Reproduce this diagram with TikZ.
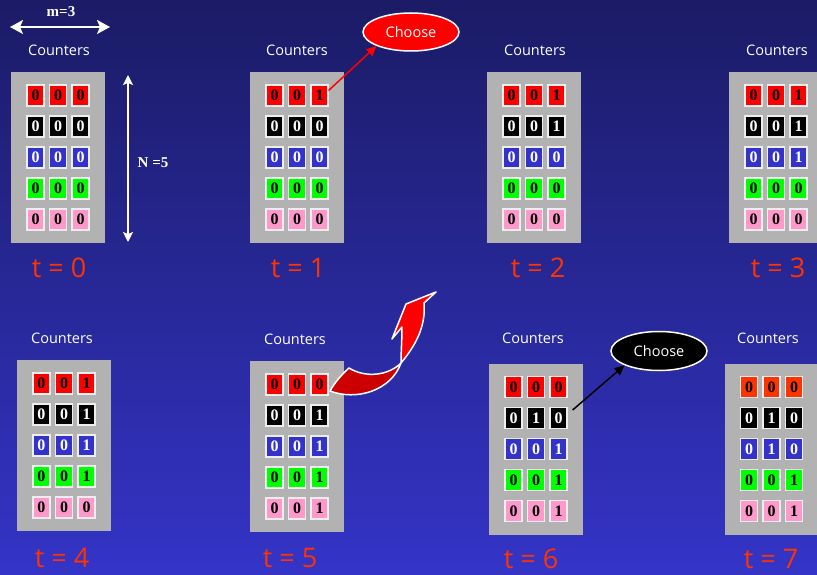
\documentclass[tikz,border=0pt]{standalone}
\usepackage{fontspec}
\setmainfont{Liberation Serif}
\newfontfamily\handfont{Open Sans}
\usetikzlibrary{arrows.meta,shapes.geometric,calc}

\definecolor{bgtop}{HTML}{1B1B66}
\definecolor{bgbot}{HTML}{3434C8}
\definecolor{panelgray}{HTML}{B2B2B2}
\definecolor{cellred}{HTML}{FF0000}
\definecolor{cellorange}{HTML}{FF3300}
\definecolor{cellblue}{HTML}{3333CC}
\definecolor{cellgreen}{HTML}{00FF00}
\definecolor{cellpink}{HTML}{FF99CC}
\definecolor{timered}{HTML}{FF3300}
\definecolor{arrowdark}{HTML}{CC0000}
\definecolor{cellrim}{HTML}{EEEEEE}

\tikzset{
  panel/.style={fill=panelgray, draw=none, minimum width=94pt, minimum height=171pt, inner sep=0pt},
  cell/.style={draw=cellrim, line width=1.2pt, minimum width=17pt, minimum height=21pt,
    inner sep=0pt, font=\bfseries\fontsize{16}{16}\selectfont},
  rowred/.style={fill=cellred, text=black},
  roworange/.style={fill=cellorange, text=black},
  rowblack/.style={fill=black, text=white},
  rowblue/.style={fill=cellblue, text=white},
  rowgreen/.style={fill=cellgreen, text=black},
  rowpink/.style={fill=cellpink, text=black},
  caption/.style={text=white, font=\handfont\fontsize{14.5}{15}\selectfont},
  timelabel/.style={text=timered, font=\handfont\fontsize{27}{27}\selectfont},
  choosebox/.style={ellipse, draw=white, line width=1.5pt, minimum width=96pt, minimum height=38pt,
    inner sep=0pt, text=white, font=\handfont\fontsize{14.5}{14.5}\selectfont},
  dimlabel/.style={text=white, font=\bfseries\fontsize{15}{15}\selectfont},
}

% name, centre x, centre y, rows as style/digit/digit/digit
\newcommand\counterpanel[4]{%
  \node[panel] (#1) at (#2,#3) {};
  \foreach \rs/\da/\db/\dc [count=\ri from 0] in {#4} {
    \pgfmathsetmacro\rowy{#3+(\ri-2)*31}
    \node[cell,\rs] (#1-\ri-0) at (#2-22.5,\rowy) {\da};
    \node[cell,\rs] (#1-\ri-1) at (#2,\rowy) {\db};
    \node[cell,\rs] (#1-\ri-2) at (#2+22.5,\rowy) {\dc};
  }
}

\begin{document}
\begin{tikzpicture}[x=1pt,y=-1pt]
\useasboundingbox (0,0) rectangle (817,575);
\clip (0,0) rectangle (817,575);
\shade[top color=bgtop, bottom color=bgbot] (0,0) rectangle (817,575);

% width and height markers
\coordinate (mL) at (10,27);
\coordinate (mR) at (110,27);
\draw[white, line width=2pt, {Stealth[length=13pt,width=14pt,inset=3pt]}-{Stealth[length=13pt,width=14pt,inset=3pt]}] (mL) -- (mR);
\node[dimlabel] (mlab) at (61,12) {m=3};
\coordinate (nT) at (128,75);
\coordinate (nB) at (128,242);
\draw[white, line width=1.5pt, {Stealth[length=10pt,width=10pt,inset=2pt]}-{Stealth[length=10pt,width=10pt,inset=2pt]}] (nT) -- (nB);
\node[dimlabel] (nlab) at (153,163) {N =5};

% top row
\node[caption] (c0) at (59,50) {Counters};
\node[caption] (c1) at (297,50) {Counters};
\node[caption] (c2) at (535,50) {Counters};
\node[caption] (c3) at (777,50) {Counters};

\counterpanel{p0}{58}{157.5}{rowred/0/0/0, rowblack/0/0/0, rowblue/0/0/0, rowgreen/0/0/0, rowpink/0/0/0}
\counterpanel{p1}{297}{157.5}{rowred/0/0/1, rowblack/0/0/0, rowblue/0/0/0, rowgreen/0/0/0, rowpink/0/0/0}
\counterpanel{p2}{534}{157.5}{rowred/0/0/1, rowblack/0/0/1, rowblue/0/0/0, rowgreen/0/0/0, rowpink/0/0/0}
\counterpanel{p3}{776}{157.5}{rowred/0/0/1, rowblack/0/0/1, rowblue/0/0/1, rowgreen/0/0/0, rowpink/0/0/0}

\node[timelabel] (t0) at (59,268) {t = 0};
\node[timelabel] (t1) at (298,268) {t = 1};
\node[timelabel] (t2) at (538,268) {t = 2};
\node[timelabel] (t3) at (778,268) {t = 3};

% bottom row
\node[caption] (c4) at (62,338) {Counters};
\node[caption] (c5) at (295,339) {Counters};
\node[caption] (c6) at (533,338) {Counters};
\node[caption] (c7) at (768,338) {Counters};

\counterpanel{p4}{64}{445.5}{rowred/0/0/1, rowblack/0/0/1, rowblue/0/0/1, rowgreen/0/0/1, rowpink/0/0/0}
\counterpanel{p5}{297}{446.5}{rowred/0/0/0, rowblack/0/0/1, rowblue/0/0/1, rowgreen/0/0/1, rowpink/0/0/1}
\counterpanel{p6}{536}{449}{rowred/0/0/0, rowblack/0/1/0, rowblue/0/0/1, rowgreen/0/0/1, rowpink/0/0/1}
\counterpanel{p7}{771.5}{449}{roworange/0/0/0, rowblack/0/1/0, rowblue/0/1/0, rowgreen/0/0/1, rowpink/0/0/1}

\node[timelabel] (t4) at (62,558) {t = 4};
\node[timelabel] (t5) at (290,558) {t = 5};
\node[timelabel] (t6) at (531,559) {t = 6};
\node[timelabel] (t7) at (771,559) {t = 7};

% choice bubbles
\node[choosebox, fill=cellred] (chooseA) at (411,32) {Choose};
\draw[cellred, line width=1.5pt, -{Triangle[length=10pt,width=9pt]}]
  ([yshift=5pt]p1-0-2.east) -- (chooseA.south west);
\node[choosebox, fill=black, minimum height=39pt] (chooseB) at (659,351) {Choose};
\draw[black, line width=1.5pt, -{Triangle[length=10pt,width=9pt]}]
  ([shift={(5pt,8pt)}]p6-1-2.east) -- (chooseB.south west);

% curved ribbon arrow leaving the reset counter
\filldraw[fill=arrowdark, draw=white, line width=1.5pt, line join=round]
  (330,391) .. controls (356,401) and (391,391) .. (401,363)
  .. controls (388,376) and (365,378) .. (349,368)
  .. controls (340,376) and (334,384) .. (330,391) -- cycle;
\filldraw[fill=cellred, draw=white, line width=1.5pt, line join=round]
  (401,363) .. controls (416,345) and (426,326) .. (424,303)
  -- (436,292) -- (406,304) -- (392,339) -- (402,327)
  .. controls (402,340) and (401,352) .. (401,363) -- cycle;
\end{tikzpicture}
\end{document}
